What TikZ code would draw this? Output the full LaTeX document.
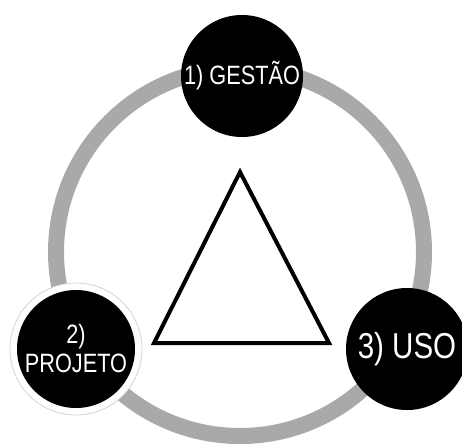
\documentclass[tikz,border=0pt]{standalone}
\usepackage{fontspec}
\newfontfamily\narrowsans[FakeStretch=0.82]{Liberation Sans}
\definecolor{ringgray}{HTML}{A9A9A9}
\definecolor{halogray}{HTML}{D4D4D4}
\begin{document}
\begin{tikzpicture}[x=1pt,y=-1pt,
  ring/.style={draw=ringgray, line width=16pt},
  tri/.style={draw=black, line width=4pt, line join=miter},
  blob/.style={circle, fill=black, inner sep=0pt, minimum size=122pt,
    text=white, align=center,
    font=\narrowsans\fontsize{26.5}{29}\selectfont},
  halo/.style={circle, fill=white, draw=halogray, line width=0.8pt,
    inner sep=0pt, minimum size=132pt}]
\useasboundingbox[fill=white] (0,0) rectangle (462,445);
% ring
\coordinate (ringc) at (240,252);
\draw[ring] (ringc) circle[radius=184];
% triangle
\coordinate (apex) at (240,172);
\coordinate (bl) at (154,343);
\coordinate (br) at (329,343);
\draw[tri] (apex) -- (bl) -- (br) -- cycle;
% circles
\node[blob] (gestao) at (242,76) {1) GESTÃO};
\node[blob, font=\narrowsans\fontsize{36}{40}\selectfont] (uso) at (407,349) {3) USO};
\node[halo] (projhalo) at (76,349) {};
\node[blob, minimum size=118pt] (projeto) at (76,349) {2)\\PROJETO};
\end{tikzpicture}
\end{document}
